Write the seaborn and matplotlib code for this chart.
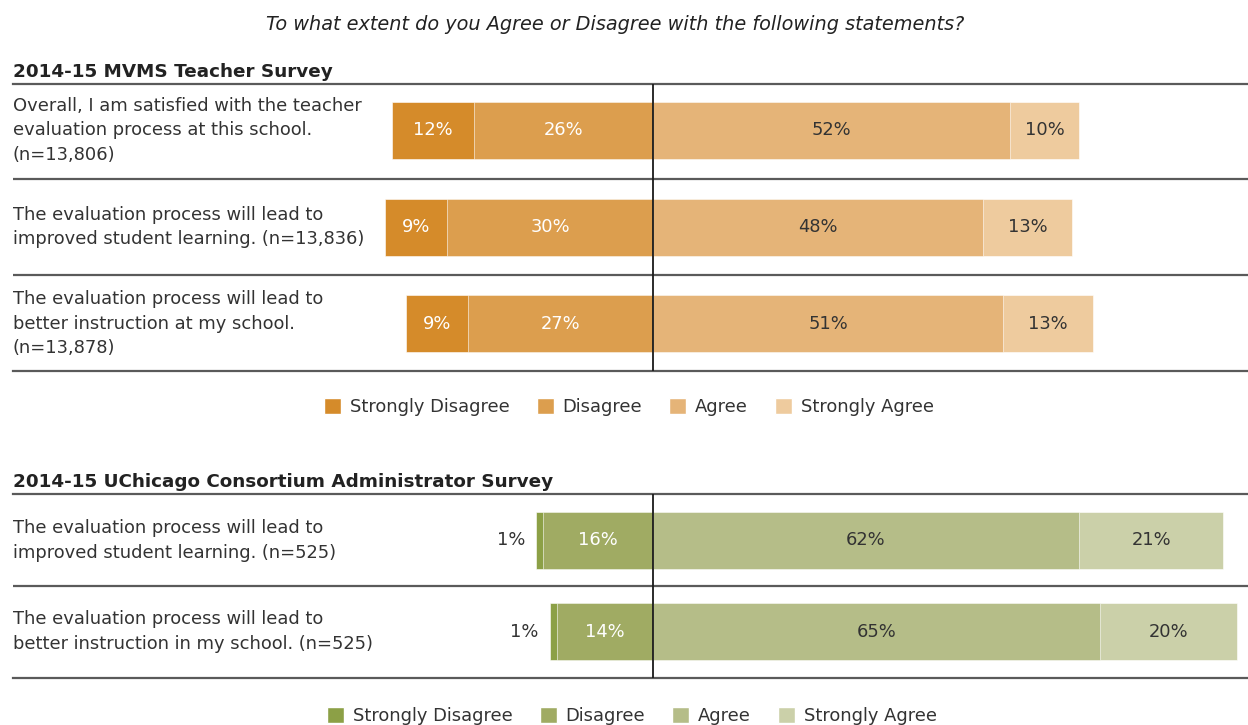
import matplotlib
matplotlib.use("Agg")
import matplotlib.pyplot as plt
import matplotlib.transforms as mtransforms
from matplotlib.patches import Patch
import seaborn as sns
import pandas as pd

# ---------------- data ----------------
categories = ["Strongly Disagree", "Disagree", "Agree", "Strongly Agree"]

top_title = "2014-15 MVMS Teacher Survey"
top_questions = [
    "Overall, I am satisfied with the teacher\nevaluation process at this school.\n(n=13,806)",
    "The evaluation process will lead to\nimproved student learning. (n=13,836)",
    "The evaluation process will lead to\nbetter instruction at my school.\n(n=13,878)",
]
top_sd = [12, 9, 9]
top_d = [26, 30, 27]
top_a = [52, 48, 51]
top_sa = [10, 13, 13]

bot_title = "2014-15 UChicago Consortium Administrator Survey"
bot_questions = [
    "The evaluation process will lead to\nimproved student learning. (n=525)",
    "The evaluation process will lead to\nbetter instruction in my school. (n=525)",
]
bot_sd = [1, 1]
bot_d = [16, 14]
bot_a = [62, 65]
bot_sa = [21, 20]

header = "To what extent do you Agree or Disagree with the following statements?"

orange = ["#D58B2A", "#DC9E4E", "#E5B478", "#EECB9E"]
green = ["#8CA046", "#A0AB63", "#B5BD88", "#CBD0A9"]

# ---------------- style ----------------
sns.set_theme(style="white")
plt.rcParams["font.family"] = ["DejaVu Sans"]
TXT = "#333333"
FS = 12.9

W, H = 1248, 725
fig = plt.figure(figsize=(W / 100, H / 100), dpi=100)


def rect(x0, y0, x1, y1):
    return [x0 / W, 1 - y1 / H, (x1 - x0) / W, (y1 - y0) / H]


XL = (-(653 - 13) / 6.87, (1248 - 653) / 6.87)


def panel(axrect, questions, sd, d, a, sa, colors, ylim, barh, sd_outside):
    ax = fig.add_axes(axrect)
    df = pd.DataFrame({
        "q": questions,
        "sd": sd, "d": d, "a": a, "sa": sa,
    })
    df["left_outer"] = -(df["sd"] + df["d"])
    df["left_inner"] = -df["d"]
    df["right_outer"] = df["a"] + df["sa"]
    df["right_inner"] = df["a"]
    kw = dict(y="q", orient="h", order=questions, width=barh, errorbar=None,
              ax=ax, edgecolor="white", linewidth=0.4)
    sns.barplot(data=df, x="left_outer", color=colors[0], saturation=1, **kw)
    sns.barplot(data=df, x="left_inner", color=colors[1], saturation=1, **kw)
    sns.barplot(data=df, x="right_outer", color=colors[3], saturation=1, **kw)
    sns.barplot(data=df, x="right_inner", color=colors[2], saturation=1, **kw)

    ax.set_xlim(*XL)
    ax.set_ylim(*ylim)
    ax.set_xticks([])
    ax.set_yticks([])
    ax.set_xlabel("")
    ax.set_ylabel("")
    for s in ["left", "right"]:
        ax.spines[s].set_visible(False)
    for s in ["top", "bottom"]:
        ax.spines[s].set_visible(True)
        ax.spines[s].set_color("#5a5a5a")
        ax.spines[s].set_linewidth(1.6)
    for i in range(len(questions) - 1):
        ax.axhline(i + 0.5, color="#5a5a5a", lw=1.6)
    ax.axvline(0, color="#1a1a1a", lw=1.3, zorder=5)

    trans = mtransforms.blended_transform_factory(ax.transAxes, ax.transData)
    for i, q in enumerate(questions):
        ax.text(0, i, q, transform=trans, ha="left", va="center",
                fontsize=FS, color=TXT, linespacing=1.45)
        # strongly disagree
        if sd_outside:
            ax.annotate(f"{sd[i]}%", xy=(-(sd[i] + d[i]), i), xytext=(-8, 0),
                        textcoords="offset points", ha="right", va="center",
                        fontsize=FS, color=TXT)
        else:
            ax.text(-(d[i] + sd[i] / 2), i, f"{sd[i]}%", ha="center", va="center",
                    fontsize=FS, color="white")
        ax.text(-d[i] / 2, i, f"{d[i]}%", ha="center", va="center",
                fontsize=FS, color="white")
        ax.text(a[i] / 2, i, f"{a[i]}%", ha="center", va="center",
                fontsize=FS, color=TXT)
        ax.text(a[i] + sa[i] / 2, i, f"{sa[i]}%", ha="center", va="center",
                fontsize=FS, color=TXT)
    return ax


panel(rect(13, 84, 1248, 371), top_questions, top_sd, top_d, top_a, top_sa,
      orange, (2.49, -0.48), 0.59, False)
panel(rect(13, 494, 1248, 678), bot_questions, bot_sd, bot_d, bot_a, bot_sa,
      green, (1.51, -0.51), 0.626, True)

fig.text(615 / W, 1 - 30 / H, header, ha="center", va="baseline",
         fontsize=13.9, style="italic", color="#222222")
fig.text(13 / W, 1 - 77 / H, top_title, ha="left", va="baseline",
         fontsize=13.2, fontweight="bold", color="#222222")
fig.text(13 / W, 1 - 487 / H, bot_title, ha="left", va="baseline",
         fontsize=13.2, fontweight="bold", color="#222222")

legkw = dict(loc="center", ncol=4, frameon=False, fontsize=FS,
             handlelength=0.95, handleheight=1.05, handletextpad=0.5,
             columnspacing=1.5, labelcolor=TXT)
fig.legend(handles=[Patch(facecolor=c, label=l) for c, l in zip(orange, categories)],
           bbox_to_anchor=(629 / W, 1 - 407 / H), **legkw)
fig.legend(handles=[Patch(facecolor=c, label=l) for c, l in zip(green, categories)],
           bbox_to_anchor=(632 / W, 1 - 716 / H), **legkw)

fig.savefig("out.png", dpi=100, facecolor="white")
